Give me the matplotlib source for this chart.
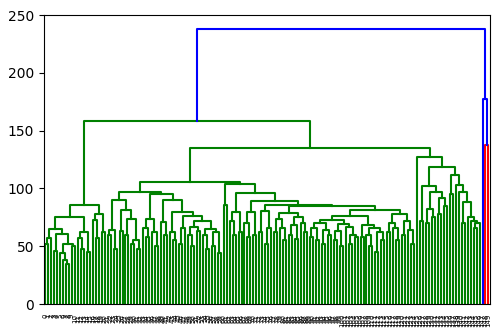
import matplotlib.pyplot as plt

# dendrogram: node = (height, left, right), leaf = label
cluster_a = (86,
             (75,
              (65, (57, (52, 0, 1), 2),
                   (61, (46, 3, 4), (52, (44, 5, (38, 6, (35, 7, 8))), (50, 9, 10)))),
              (62, (57, 11, (48, 12, 13)), (45, 14, 15))),
             (78, (73, 16, (57, 17, 18)), (62, 19, 20)))

cluster_c1 = (90, (64, (60, 21, 22), (48, 23, 24)),
              (81, (63, 25, 26), (74, (60, 27, 28), (55, (52, 29, 30), (48, 31, 32)))))
cluster_c2 = (74, (66, 33, (58, 34, 35)), (62, 36, (50, 37, 38)))
cluster_c3 = (90, (71, 39, (60, 40, 41)),
              (80, (62, 42, (55, 43, 44)),
               (76, (66, (52, 45, 46), 47),
                (72, (67, (60, 48, (50, 49, 50)), (63, 51, 52)),
                 (65, (60, 53, (48, 54, 55)), (62, (50, 56, 57), (44, 58, 59)))))))
cluster_b1a = (97, cluster_c1, (95.5, cluster_c2, cluster_c3))

cluster_r1 = (80, (72, 62, (60, 63, 64)), (62, 65, 66))
cluster_r2a = (80, (70, 67, (58, 68, 69)), (60, 70, 71))
cluster_s1 = (80.6, (62, 72, 73), (66, (52, 74, 75), 76))
cluster_t1 = (79, (74, (62, 77, 78), (66, 79, (55, 80, 81))),
              (75.6, (68, (60, 82, 83), (56, 84, 85)), (70, 86, (62, 87, 88))))
cluster_v1 = (73, (70, (66, (58, 89, 90), (55, 91, 92)), (64, (52, 93, 94), (60, 95, 96))),
              (69, (63, (55, 97, 98), (50, 99, 100)), (67, 101, (60, (52, 102, 103), (58, 104, 105)))))
cluster_v2 = (68, (58, 106, 107), (66, (60, 108, (50, 109, 110)), (62, (45, 111, 112), (55, 113, 114))))
cluster_u2 = (77.6, (70, (62, 115, 116), (66, 117, (55, 118, 119))),
              (72, (60, 120, 121), (64, 122, (52, 123, 124))))
cluster_b1b = (103.5, (86, 60, 61),
               (96.5, cluster_r1,
                (89.5, cluster_r2a,
                 (86, cluster_s1,
                  (84.6, cluster_t1, (81, (76, cluster_v1, cluster_v2), cluster_u2))))))

cluster_x = (82, (70, 128, 129), (75, 130, 131))
cluster_y = (92, (78, 132, 133), (85, 134, 135))
cluster_z2 = (103, 138, (97, 139, (88, (70, 140, 141),
                                   (75, 142, (72, 143, (70, (66, 144, 145), 146))))))
cluster_b2 = (127, 125, (118.6, (102, (72, 126, 127), (97, cluster_x, cluster_y)),
                         (112, (95, 136, 137), cluster_z2)))

green = (158, cluster_a, (135, (105.5, cluster_b1a, cluster_b1b), cluster_b2))
tree = (238.2, green, (177, 147, (138, 148, 149)))

color_threshold = 166.6
above_color = 'b'
palette = ['g', 'r', 'c', 'm', 'y', 'k']

fig = plt.figure(figsize=(5.02, 3.35), dpi=100)
ax = fig.add_axes([0.087, 0.0925, 0.889, 0.8627])

leaf_labels = []
used = [0]


def draw(node, color=None):
    if not isinstance(node, tuple):
        x = 10 * len(leaf_labels) + 5
        leaf_labels.append(str(node))
        return x, 0.0
    h, left, right = node
    if color is None and h < color_threshold:
        color = palette[used[0]]
        used[0] += 1
    xl, hl = draw(left, color)
    xr, hr = draw(right, color)
    ax.plot([xl, xl, xr, xr], [hl, h, h, hr], color=color or above_color, lw=1.5)
    return (xl + xr) / 2, h


draw(tree)

n = len(leaf_labels)
ax.set_xlim(0, 10 * n)
ax.set_ylim(0, 1.05 * tree[0])
ax.set_yticks(range(0, 251, 50))
ax.set_xticks([10 * i + 5 for i in range(n)])
ax.set_xticklabels(leaf_labels, rotation=90, fontsize=5)
for line in ax.get_xticklines():
    line.set_visible(False)

fig.savefig('out.png', dpi=100)
